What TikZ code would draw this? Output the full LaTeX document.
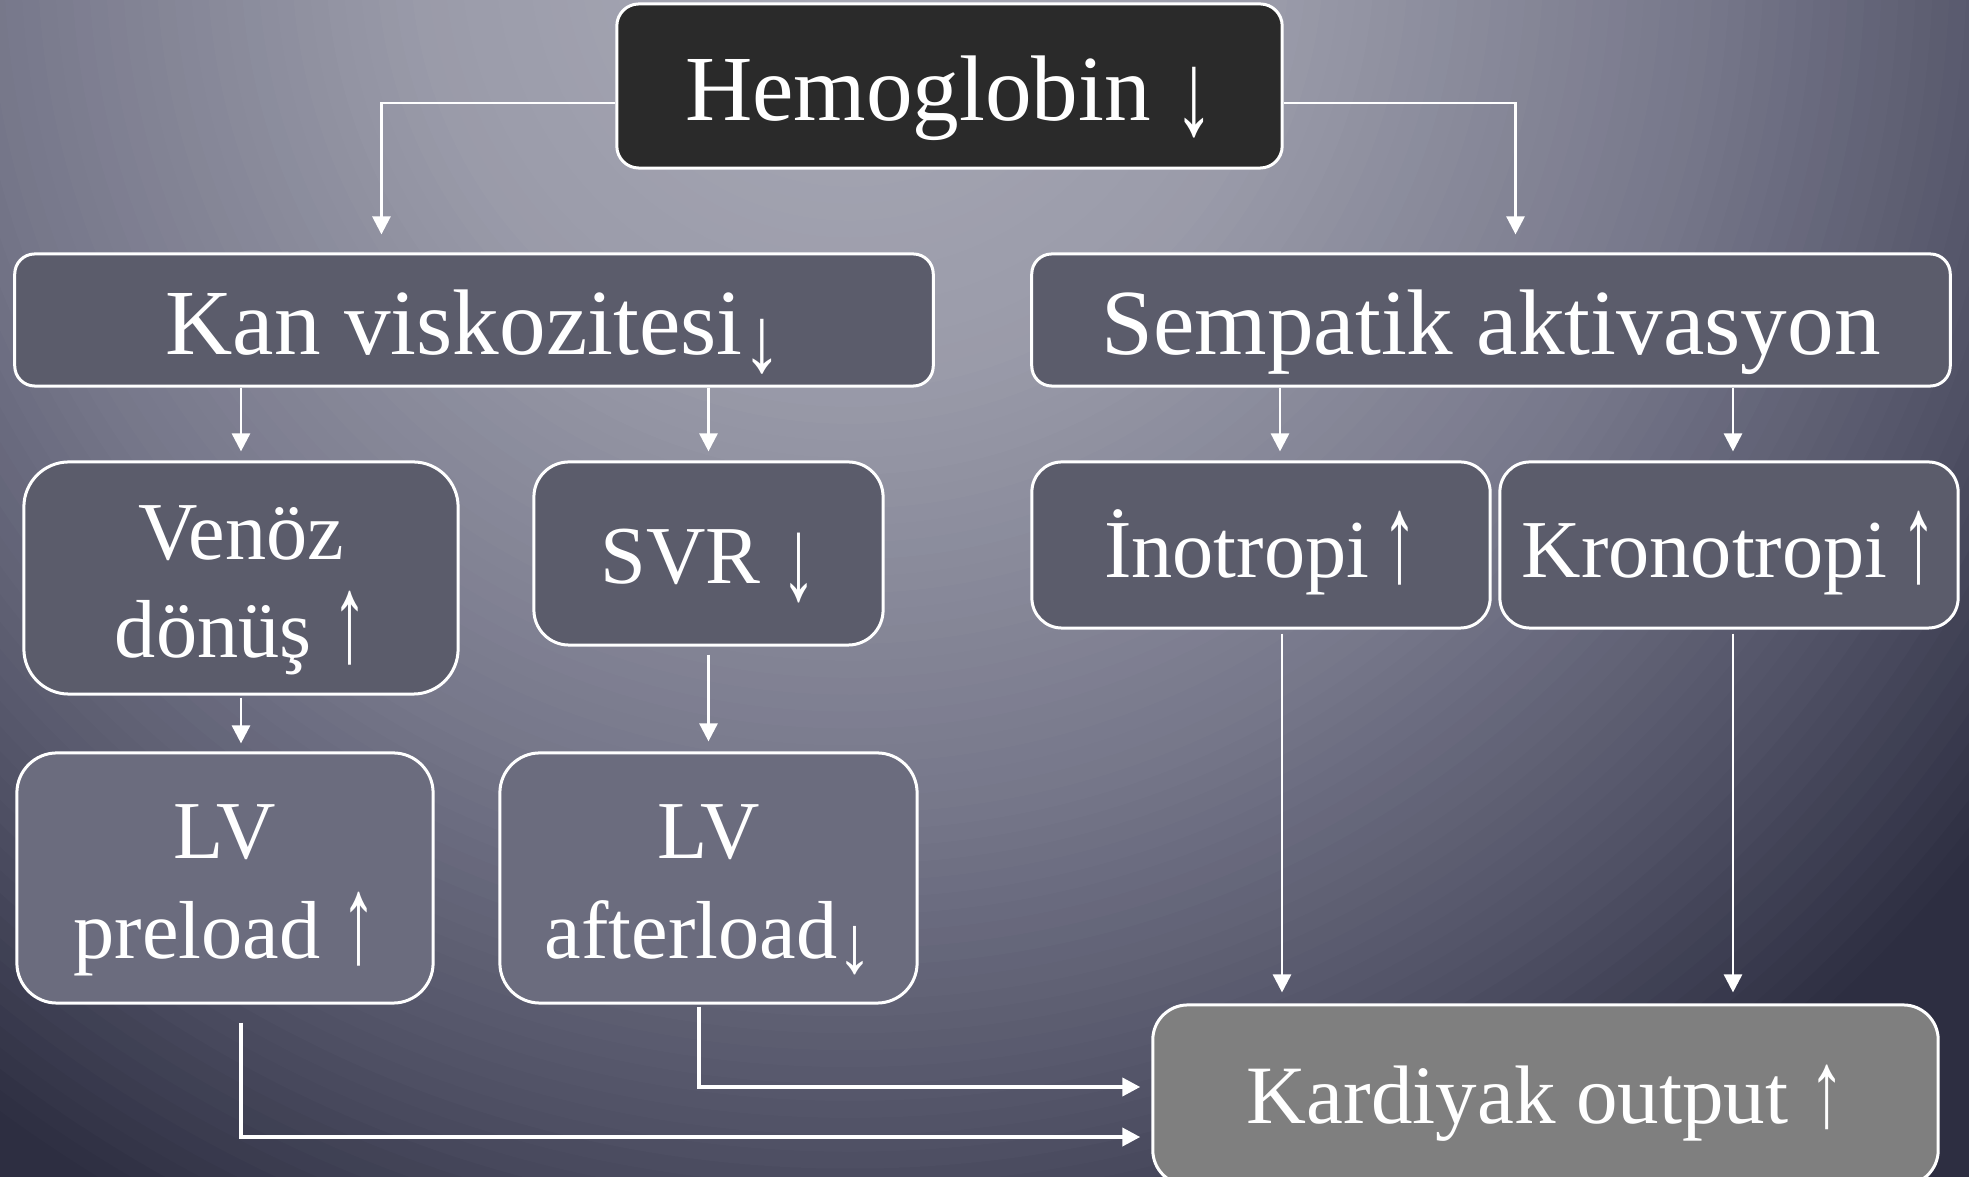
\documentclass[tikz,border=0pt]{standalone}
\usepackage{fontspec}
\setmainfont{Liberation Serif}
\usetikzlibrary{arrows.meta}
\XeTeXuseglyphmetrics=1
\definecolor{bg0}{HTML}{A9AAB7}
\definecolor{bg1}{HTML}{9A9BA9}
\definecolor{bg2}{HTML}{76778A}
\definecolor{bg3}{HTML}{505165}
\definecolor{bg4}{HTML}{2D2E41}
\definecolor{hemofill}{HTML}{2A2A2A}
\definecolor{midfill}{HTML}{5B5C6B}
\definecolor{lvfill}{HTML}{6B6C7E}
\definecolor{kardfill}{HTML}{7F7F7F}
\newcommand\bigtxt{\fontsize{26.5pt}{32pt}\selectfont}
\newcommand\smtxt{\fontsize{23.4pt}{28.4pt}\selectfont}
\newcommand\vztxt{\fontsize{23.4pt}{27.6pt}\selectfont}
\newcommand\kdtxt{\fontsize{23.6pt}{28pt}\selectfont}
\newcommand\lowered[2]{\raisebox{#1}[0pt][0pt]{#2}}
\newcommand\twolines[3]{\raisebox{#1}[0pt][0pt]{\begin{tabular}[b]{@{}c@{}}#2\\#3\end{tabular}}}
\newsavebox\arrbox
\newcommand\sarr[3]{%
  \sbox\arrbox{#1}%
  \dimen0=#3\relax
  \dimen2=\ht\arrbox \advance\dimen2 by \dp\arrbox
  \pgfmathsetmacro\arrs{\the\dimen0/\the\dimen2}%
  \dimen4=#2\relax
  \dimen6=\arrs\dp\arrbox
  \advance\dimen4 by \dimen6
  \raisebox{\dimen4}{\scalebox{0.85}[\arrs]{\usebox\arrbox}}}
\newcommand\up{\sarr{↑}{-0.1em}{0.9em}}
\tikzset{
  box/.style={draw=white, line width=0.03cm, inner sep=0pt, text=white},
  arr/.style={draw=white, line width=0.027cm, -{Triangle[width=0.18cm,length=0.18cm]}},
  thickarr/.style={arr, line width=0.04cm}
}
\begin{document}
\begin{tikzpicture}[x=0.01cm, y=-0.01cm]
\useasboundingbox (0,0) rectangle (1969,1177);
\fill[bg4] (0,0) rectangle (1969,1177);
\begin{scope}
\clip (0,0) rectangle (1969,1177);
\foreach \k in {0,...,89}{
  \pgfmathsetmacro\t{1.05-\k*1.05/90}
  \pgfmathsetmacro\rr{\t*14.5}
  \pgfmathtruncatemacro\seg{\t<0.3 ? 0 : (\t<0.6 ? 1 : (\t<0.83 ? 2 : (\t<1.0 ? 3 : 4)))}
  \ifcase\seg
    \pgfmathsetmacro\p{\t/0.3*100}\colorlet{cc}{bg1!\p!bg0}
  \or
    \pgfmathsetmacro\p{(\t-0.3)/0.3*100}\colorlet{cc}{bg2!\p!bg1}
  \or
    \pgfmathsetmacro\p{(\t-0.6)/0.23*100}\colorlet{cc}{bg3!\p!bg2}
  \or
    \pgfmathsetmacro\p{(\t-0.83)/0.17*100}\colorlet{cc}{bg4!\p!bg3}
  \else
    \colorlet{cc}{bg4}
  \fi
  \fill[cc] (850,-50) circle [radius=\rr cm];
}
\end{scope}

\node[box, fill=hemofill, rounded corners=0.22cm, minimum width=6.65cm, minimum height=1.64cm, font=\bigtxt] (hemo) at (949.5,86) {\lowered{-0.34cm}{Hemoglobin \sarr{↓}{-0.19em}{0.76em}}};
\node[box, fill=midfill, rounded corners=0.2cm, minimum width=9.18cm, minimum height=1.32cm, font=\bigtxt] (kan) at (474,320) {\lowered{-0.34cm}{Kan viskozitesi\sarr{↓}{-0.215em}{0.59em}}};
\node[box, fill=midfill, rounded corners=0.2cm, minimum width=9.18cm, minimum height=1.32cm, font=\bigtxt] (semp) at (1491,320) {\lowered{-0.34cm}{Sempatik aktivasyon}};
\node[box, fill=midfill, rounded corners=0.45cm, minimum width=4.34cm, minimum height=2.32cm, font=\vztxt] (venoz) at (241,578) {\twolines{-0.79cm}{Venöz}{dönüş \up}};
\node[box, fill=midfill, rounded corners=0.35cm, minimum width=3.49cm, minimum height=1.83cm, font=\smtxt] (svr) at (708.5,553.5) {\lowered{-0.30cm}{SVR \sarr{↓}{-0.235em}{0.85em}}};
\node[box, fill=midfill, rounded corners=0.3cm, minimum width=4.58cm, minimum height=1.66cm, font=\smtxt] (ino) at (1261,545) {\lowered{-0.32cm}{İnotropi\,\up}};
\node[box, fill=midfill, rounded corners=0.3cm, minimum width=4.58cm, minimum height=1.66cm, font=\smtxt] (krono) at (1729,545) {\lowered{-0.32cm}{Kronotropi\,\up}};
\node[box, fill=lvfill, rounded corners=0.4cm, minimum width=4.16cm, minimum height=2.5cm, font=\smtxt] (lvpre) at (225,878) {\twolines{-0.80cm}{LV}{preload \up}};
\node[box, fill=lvfill, rounded corners=0.4cm, minimum width=4.17cm, minimum height=2.5cm, font=\smtxt] (lvaft) at (708.5,878) {\twolines{-0.80cm}{LV}{afterload\sarr{↓}{-0.21em}{0.59em}}};
\node[box, fill=kardfill, rounded corners=0.35cm, minimum width=7.85cm, minimum height=1.8cm, font=\kdtxt] (kard) at (1545.5,1095) {\lowered{-0.28cm}{Kardiyak output \sarr{↑}{-0.085em}{0.78em}}};

\draw[arr, shorten >=0.18cm] ([yshift=-0.17cm]hemo.west) -| ([xshift=3.68cm]kan.north west);
\draw[arr, shorten >=0.18cm] ([yshift=-0.17cm]hemo.east) -| ([xshift=4.85cm]semp.north west);
\draw[arr, shorten >=0.09cm] (venoz.north |- kan.south) -- (venoz.north);
\draw[arr, shorten >=0.09cm] (svr.north |- kan.south) -- (svr.north);
\draw[arr, shorten >=0.09cm] ([xshift=0.19cm]ino.north |- semp.south) -- ([xshift=0.19cm]ino.north);
\draw[arr, shorten >=0.09cm] ([xshift=0.04cm]krono.north |- semp.south) -- ([xshift=0.04cm]krono.north);
\draw[arr, shorten <=0.02cm, shorten >=0.08cm] (venoz.south) -- (venoz.south |- lvpre.north);
\draw[arr, shorten <=0.08cm, shorten >=0.1cm] (svr.south) -- (lvaft.north);
\draw[arr, shorten <=0.04cm, shorten >=0.11cm] ([xshift=0.21cm]ino.south) -- ([xshift=0.21cm]ino.south |- kard.north);
\draw[arr, shorten <=0.04cm, shorten >=0.11cm] ([xshift=0.04cm]krono.south) -- ([xshift=0.04cm]krono.south |- kard.north);
\draw[thickarr, shorten <=0.02cm, shorten >=0.11cm] ([xshift=-0.095cm]lvaft.south) |- ([yshift=0.08cm]kard.west);
\draw[thickarr, shorten <=0.18cm, shorten >=0.11cm] ([xshift=0.16cm]lvpre.south) |- ([yshift=-0.42cm]kard.west);
\end{tikzpicture}
\end{document}
